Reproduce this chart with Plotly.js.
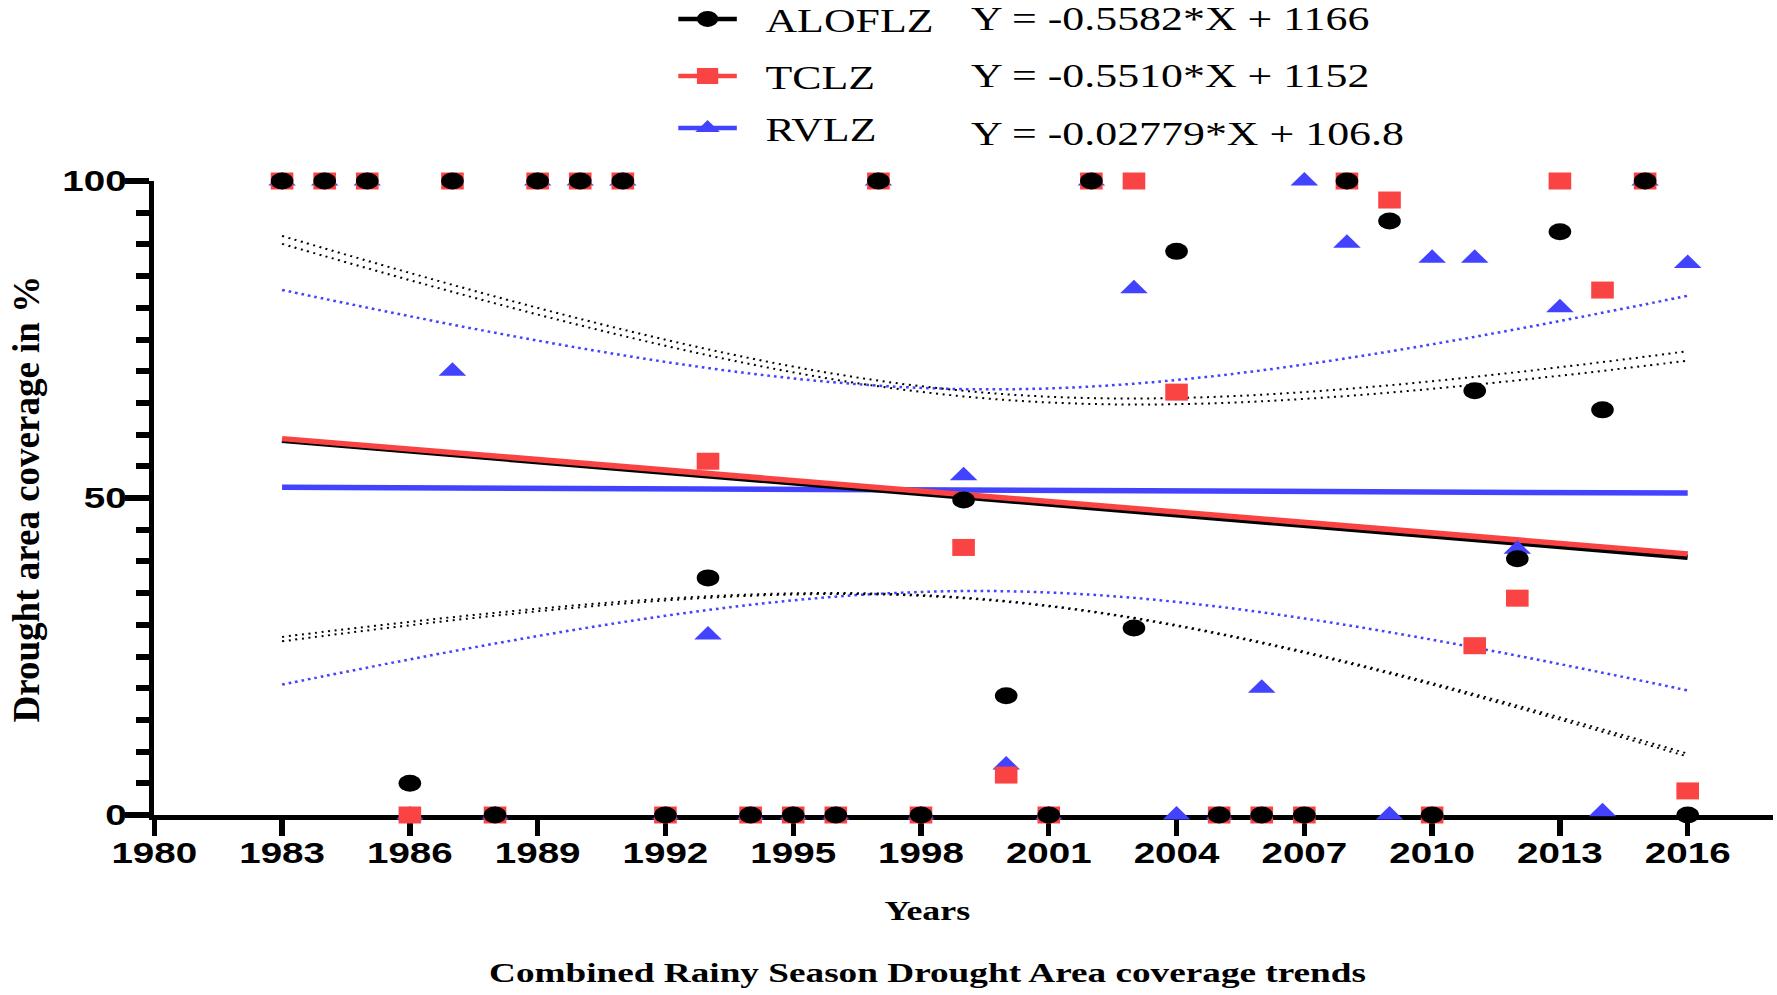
<!DOCTYPE html>
<html>
<head>
<meta charset="utf-8">
<script src="https://cdn.plot.ly/plotly-3.0.1.min.js"></script>
<style>
  html, body { margin: 0; padding: 0; background: #ffffff; overflow: hidden; }
  #wrap { width: 1777px; height: 995px; overflow: hidden; }
  #chart { width: 1336px; height: 995px; transform: scaleX(1.33); transform-origin: 0 0; }
</style>
</head>
<body>
<div id="wrap"><div id="chart"></div></div>
<script>
// ---- data ----
const years = [1983, 1984, 1985, 1986, 1987, 1988, 1989, 1990, 1991, 1992, 1993, 1994,
               1995, 1996, 1997, 1998, 1999, 2000, 2001, 2002, 2003, 2004, 2005, 2006,
               2007, 2008, 2009, 2010, 2011, 2012, 2013, 2014, 2015, 2016];

const aloflz = [100, 100, 100, 5, 100, 0, 100, 100, 100, 0, 37.4, 0,
                0, 0, 100, 0, 49.7, 18.8, 0, 100, 29.5, 88.9, 0, 0,
                0, 100, 93.7, 0, 66.9, 40.4, 92, 63.9, 100, 0];

const tclz = [100, 100, 100, 0, 100, 0, 100, 100, 100, 0, 55.8, 0,
              0, 0, 100, 0, 42.2, 6.3, 0, 100, 100, 66.7, 0, 0,
              0, 100, 97, 0, 26.7, 34.2, 100, 82.8, 100, 3.8];

const rvlz = [100, 100, 100, 0, 70, 0, 100, 100, 100, 0, 28.4, 0,
              0, 0, 100, 0, 53.5, 7.9, 0, 100, 83, 0, 0, 20,
              100, 90.2, 0, 87.8, 87.8, 41.9, 80, 0.5, 100, 87];

const seriesNames = ['ALOFLZ', 'TCLZ', 'RVLZ'];
const slopes = [-0.5582, -0.5510, -0.02779];
const intercepts = [1166, 1152, 106.8];
const equationLabels = ['Y = -0.5582*X + 1166', 'Y = -0.5510*X + 1152', 'Y = -0.02779*X + 106.8'];
const xTickVals = [1980, 1983, 1986, 1989, 1992, 1995, 1998, 2001, 2004, 2007, 2010, 2013, 2016];
const yTickVals = [0, 50, 100];
const xTitle = 'Years';
const yTitle = 'Drought area coverage in %';
const chartTitle = 'Combined Rainy Season Drought Area coverage trends';
const tCrit = 2.037; // t(0.975, df = 32) for 95% confidence bands

// ---- styles ----
const STRETCH = 1.33;
const BLACK = '#000000', RED = '#FA4444', BLUE = '#4242FF';
const seriesValues = [aloflz, tclz, rvlz];
const seriesColors = [BLACK, RED, BLUE];
const bandColors = [BLACK, BLACK, BLUE];
const symbols = ['circle', 'square', 'triangle-up'];
const markerSizes = [17, 17, 18];

function fitLine(i) {
  return [years[0], years[years.length - 1]].map(x => slopes[i] * x + intercepts[i]);
}
function confBand(i) {
  const ys = seriesValues[i], a = slopes[i], b = intercepts[i], n = years.length;
  const xbar = years.reduce((s, x) => s + x, 0) / n;
  const sxx = years.reduce((s, x) => s + (x - xbar) * (x - xbar), 0);
  const sse = years.reduce((s, x, k) => s + Math.pow(ys[k] - (a * x + b), 2), 0);
  const se = Math.sqrt(sse / (n - 2));
  const half = years.map(x => tCrit * se * Math.sqrt(1 / n + (x - xbar) * (x - xbar) / sxx));
  return {
    upper: years.map((x, k) => a * x + b + half[k]),
    lower: years.map((x, k) => a * x + b - half[k])
  };
}

const traces = [];
// confidence bands (dotted)
[2, 0, 1].forEach(i => {
  const bnd = confBand(i);
  const style = { color: bandColors[i], width: i === 2 ? 2.5 : 2, dash: i === 2 ? '2px,3px' : '1.5px,3.5px', shape: 'spline' };
  traces.push({ x: years, y: bnd.upper, mode: 'lines', line: style, showlegend: false, hoverinfo: 'skip', cliponaxis: false });
  traces.push({ x: years, y: bnd.lower, mode: 'lines', line: style, showlegend: false, hoverinfo: 'skip', cliponaxis: false });
});
// regression lines
[2, 0, 1].forEach(i => {
  traces.push({
    x: [years[0], years[years.length - 1]], y: fitLine(i), mode: 'lines',
    line: { color: seriesColors[i], width: 5.5 }, showlegend: false, hoverinfo: 'skip', cliponaxis: false
  });
});
// data points: blue bottom, red, black on top
[2, 1, 0].forEach(i => {
  traces.push({
    x: years, y: seriesValues[i], mode: 'markers', name: seriesNames[i],
    marker: { symbol: symbols[i], size: markerSizes[i], color: seriesColors[i], line: { width: 0 } },
    showlegend: false, cliponaxis: false
  });
});
// legend entries (line + marker symbol)
const legendIds = ['legend', 'legend2', 'legend3'];
[0, 1, 2].forEach(i => {
  traces.push({
    x: [null], y: [null], mode: 'lines+markers', name: '\u00A0\u00A0' + seriesNames[i], legend: legendIds[i],
    line: { color: seriesColors[i], width: 4.5 },
    marker: { symbol: symbols[i], size: 16, color: seriesColors[i] },
    showlegend: true
  });
});

const legendRowsY = [19, 76, 128];
const eqRowsY = [19, 76, 134];
const legendFont = { family: 'Liberation Serif, Times New Roman, serif', size: 33, color: '#000' };
function legendCfg(row) {
  return {
    x: 0.378, xref: 'container', xanchor: 'left',
    y: 1 - legendRowsY[row] / 995, yref: 'container', yanchor: 'middle',
    bgcolor: 'rgba(0,0,0,0)', borderwidth: 0, font: legendFont, itemwidth: 44,
    itemclick: false, itemdoubleclick: false
  };
}

const W = 1336, H = 995;
const mL = 116, mR = 3;
const plotTop = 181, plotBottom = 815;
const plotW = W - mL - mR, plotH = plotBottom - plotTop;
const titleFont = { family: 'Liberation Serif, Times New Roman, serif', color: '#000', weight: 'bold' };
const annotations = equationLabels.map((t, i) => ({
  text: t, xref: 'paper', yref: 'paper',
  x: 0.503, xanchor: 'left',
  y: (plotBottom - eqRowsY[i]) / plotH, yanchor: 'middle',
  showarrow: false, font: legendFont
}));
annotations.push({
  text: xTitle, xref: 'paper', yref: 'paper', x: 0.4774, xanchor: 'center',
  y: (plotBottom - 911) / plotH, yanchor: 'middle', showarrow: false,
  font: Object.assign({ size: 27 }, titleFont)
});
const yTitleX = -0.0793;
annotations.push({
  text: yTitle, xref: 'paper', yref: 'paper', x: yTitleX, xanchor: 'center',
  y: (plotBottom - 499) / plotH, yanchor: 'middle', textangle: -90, showarrow: false,
  font: Object.assign({ size: 37 }, titleFont)
});
const yTitleIndex = annotations.length - 1;

const tickFont = { family: 'Liberation Sans, Arial, sans-serif', size: 29, color: '#000', weight: 'bold' };

const layout = {
  width: W, height: H,
  margin: { l: mL, r: mR, t: plotTop, b: H - plotBottom, autoexpand: false },
  paper_bgcolor: '#ffffff', plot_bgcolor: '#ffffff',
  showlegend: true,
  legend: legendCfg(0), legend2: legendCfg(1), legend3: legendCfg(2),
  hovermode: false,
  title: {
    text: chartTitle,
    font: Object.assign({ size: 28 }, titleFont),
    x: 0.522, xref: 'container', xanchor: 'center',
    y: 1 - 972 / 995, yref: 'container', yanchor: 'middle'
  },
  xaxis: {
    range: [1980, 2018], tickmode: 'array', tickvals: xTickVals, ticktext: xTickVals.map(String),
    showgrid: false, zeroline: false, showline: true, linecolor: '#000', linewidth: 5,
    ticks: 'outside', ticklen: 16, tickwidth: 4, tickcolor: '#000', ticklabelstandoff: -8,
    tickfont: tickFont, layer: 'below traces', automargin: false
  },
  yaxis: {
    range: [0, 100], tickmode: 'array', tickvals: yTickVals, ticktext: yTickVals.map(String),
    showgrid: false, zeroline: false, showline: true, linecolor: '#000', linewidth: 4,
    ticks: 'outside', ticklen: 18, tickwidth: 6, tickcolor: '#000', ticklabelstandoff: -7,
    minor: { dtick: 5, tick0: 0, ticks: 'outside', ticklen: 10, tickwidth: 6, tickcolor: '#000', showgrid: false },
    tickfont: tickFont, layer: 'below traces', automargin: false
  },
  annotations: annotations
};

Plotly.newPlot('chart', traces, layout, { displayModeBar: false, staticPlot: true }).then(() => {
  // the vertical axis title is not widened by the page's horizontal stretch
  const g = document.querySelector('#chart .annotation[data-index="' + yTitleIndex + '"]');
  if (g) {
    const cx = mL + yTitleX * plotW;
    g.setAttribute('transform', 'translate(' + cx + ',0) scale(' + (1 / STRETCH) + ',1) translate(' + (-cx) + ',0)');
  }
});
</script>
</body>
</html>
